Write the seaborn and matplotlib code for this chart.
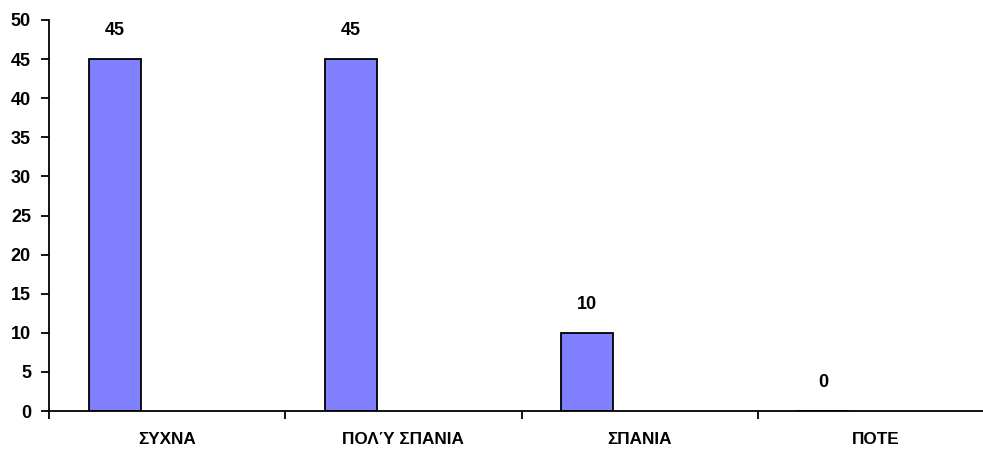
import matplotlib
matplotlib.use("Agg")
import matplotlib.pyplot as plt
import numpy as np
import pandas as pd
import seaborn as sns

categories = ["ΣΥΧΝΑ", "ΠΟΛΎ ΣΠΑΝΙΑ", "ΣΠΑΝΙΑ", "ΠΟΤΕ"]
values = [45, 45, 10, 0]
y_ticks = [0, 5, 10, 15, 20, 25, 30, 35, 40, 45, 50]

sns.set_theme(style="white")
plt.rcParams["font.family"] = ["Liberation Sans", "DejaVu Sans"]

fig = plt.figure(figsize=(9.83, 4.51), dpi=100)
W, H = 983, 451
left, right, top, bottom = 49, 994, 20, 411
ax = fig.add_axes([left / W, (H - bottom) / H, (right - left) / W, (bottom - top) / H])

# bars sit in the first of three slots of each category
bar_w = 0.22
offset = -0.222
df = pd.DataFrame({"pos": np.arange(len(categories)) + offset, "value": values})
sns.barplot(data=df, x="pos", y="value", native_scale=True, width=bar_w,
            color="#8080FF", saturation=1, edgecolor="black", linewidth=1.3, ax=ax)

for p, v in zip(df["pos"], df["value"]):
    ax.text(p, v + 3.6, f"{v}", ha="center", va="center",
            fontsize=13, fontweight="bold", color="black")

ax.set_xlim(-0.5, len(categories) - 0.5)
ax.set_ylim(0, 50)
ax.set_yticks(y_ticks)
ax.set_yticklabels([str(t) for t in y_ticks], fontsize=13, fontweight="bold")

# boundaries get tick marks, centers carry the labels
ax.set_xticks(np.arange(len(categories) + 1) - 0.5)
ax.set_xticklabels([])
ax.set_xticks(np.arange(len(categories)), minor=True)
ax.set_xticklabels(categories, minor=True, fontsize=12.3, fontweight="bold")
ax.tick_params(axis="x", which="major", length=6, width=1.3, color="black", direction="out", bottom=True)
ax.tick_params(axis="x", which="minor", length=0, pad=15, labelcolor="black")
ax.tick_params(axis="y", length=6, width=1.3, color="black", labelcolor="black",
               direction="out", left=True, pad=7)

ax.set_xlabel("")
ax.set_ylabel("")
for s in ["top", "right"]:
    ax.spines[s].set_visible(False)
for s in ["left", "bottom"]:
    ax.spines[s].set_color("black")
    ax.spines[s].set_linewidth(1.3)
ax.grid(False)

fig.savefig("out.png", dpi=100)
